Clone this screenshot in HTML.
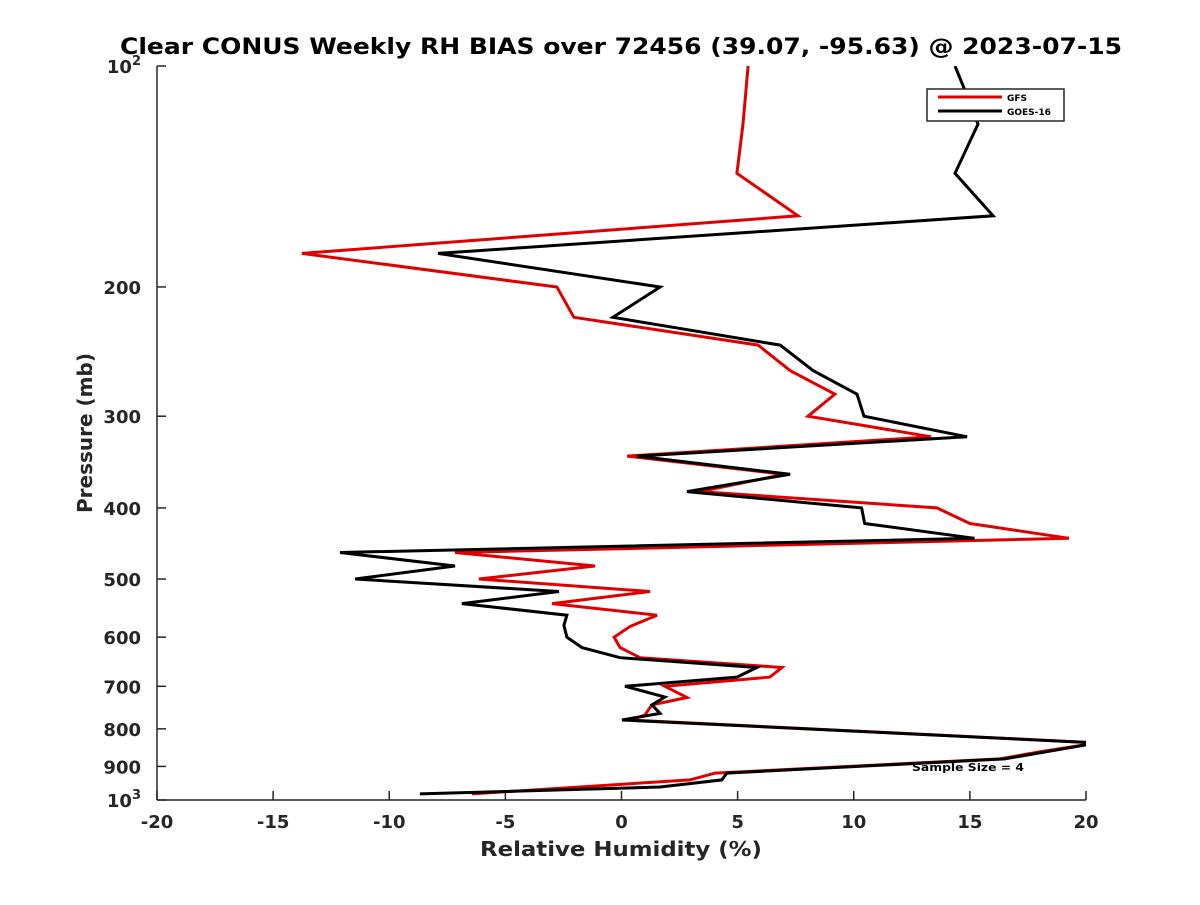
<!DOCTYPE html>
<html><head><meta charset="utf-8"><style>
body{margin:0;background:#fff;}
svg text{font-family:"DejaVu Sans","Liberation Sans",sans-serif;font-weight:bold;fill:#262626;}
</style></head><body>
<svg id="chart" width="1200" height="900" xmlns="http://www.w3.org/2000/svg">
<rect width="1200" height="900" fill="#fff"/>
<defs><clipPath id="pc"><rect x="157" y="66" width="929" height="734"/></clipPath></defs>
<text x="120" y="54" font-size="22" textLength="1002" lengthAdjust="spacingAndGlyphs" style="fill:#000">Clear CONUS Weekly RH BIAS over 72456 (39.07, -95.63) @ 2023-07-15</text>
<g id="axes"></g>
<g id="series" clip-path="url(#pc)"></g>
<text x="480" y="856" font-size="20" textLength="282" lengthAdjust="spacingAndGlyphs">Relative Humidity (%)</text>
<text transform="translate(92,433) rotate(-90)" text-anchor="middle" font-size="20">Pressure (mb)</text>
<text x="912" y="771" font-size="11" textLength="112" lengthAdjust="spacingAndGlyphs" style="fill:#000">Sample Size = 4</text>
<g>
<rect x="927" y="89" width="137" height="32" fill="#fff" stroke="#262626" stroke-width="1.5"/>
<line x1="938" y1="97" x2="1002" y2="97" stroke="#e00000" stroke-width="3"/>
<text x="1007" y="101" font-size="9" style="fill:#000">GFS</text>
<line x1="938" y1="111" x2="1002" y2="111" stroke="#000" stroke-width="3"/>
<text x="1007" y="115" font-size="9" style="fill:#000">GOES-16</text>
</g>
</svg>
<script>
const xTicks=[-20,-15,-10,-5,0,5,10,15,20];
const yTicks=[100,200,300,400,500,600,700,800,900,1000];
const gfsP=[100,120,140,160,180,200,220,240,260,280,300,320,340,360,380,400,420,440,460,480,500,520,540,560,580,600,620,640,660,680,700,725,742,766,778,836,860,879,919,939,981];
const gfsRH=[5.45,5.23,4.97,7.6,-13.76,-2.78,-2.05,5.88,7.26,9.19,8.03,13.33,0.24,7.0,3.38,13.58,15.0,19.27,-7.17,-1.14,-6.14,1.23,-2.99,1.53,0.37,-0.32,-0.06,0.8,6.91,6.39,1.87,2.82,1.31,1.01,0.37,20.5,18.0,16.3,4.03,2.95,-6.44];
const goesP=[100,107,120,140,160,180,200,220,240,260,280,300,320,340,360,380,400,420,440,460,480,500,520,540,560,578,600,620,640,660,680,700,724,742,762,778,836,879,919,939,960,981];
const goesRH=[14.36,14.74,15.35,14.36,16.0,-7.9,1.66,-0.37,6.83,8.25,10.14,10.44,14.88,0.67,7.26,2.82,10.34,10.47,15.2,-12.12,-7.17,-11.47,-2.69,-6.87,-2.35,-2.48,-2.35,-1.7,-0.06,5.83,4.97,0.15,1.87,1.31,1.66,0.02,20.5,16.5,4.54,4.32,1.66,-8.68];
const X0=157,X1=1086,Y0=66,Y1=800;
function xs(v){return X0+(v+20)/40*(X1-X0);}
function ys(p){return Y0+Math.log10(p/100)*(Y1-Y0);}
const NS='http://www.w3.org/2000/svg';
function mk(t,a,p){const e=document.createElementNS(NS,t);for(const k in a)e.setAttribute(k,a[k]);p.appendChild(e);return e;}
const ax=document.getElementById('axes');
const yl=mk('line',{x1:X0,y1:Y0,x2:X0,y2:Y1,stroke:'#262626','stroke-width':1.5},ax);


const xl=mk('line',{x1:X0,y1:Y1,x2:X1,y2:Y1,stroke:'#262626','stroke-width':1.5},ax);


xTicks.forEach(v=>{
 const x=xs(v);
 mk('line',{x1:x,y1:Y1,x2:x,y2:Y1-9,stroke:'#262626','stroke-width':1.5},ax);
 const t=mk('text',{x:x,y:Y1+28,'text-anchor':'middle','font-size':18},ax);
 t.textContent=v;
 
 
});
yTicks.forEach(p=>{
 const y=ys(p);
 mk('line',{x1:X0,y1:y,x2:X0+9,y2:y,stroke:'#262626','stroke-width':1.5},ax);
 const t=mk('text',{x:X0-16,y:y+7,'text-anchor':'end','font-size':18},ax);
 if(p===100||p===1000){
  t.textContent='10';
  const s=mk('tspan',{dy:-8,'font-size':13},t);s.textContent=p===100?'2':'3';
 } else t.textContent=p;
 
 
});
const sg=document.getElementById('series');
function draw(P,R,c,name){
 const pts=P.map((p,i)=>xs(R[i]).toFixed(1)+','+ys(p).toFixed(1)).join(' ');
 const pl=mk('polyline',{points:pts,fill:'none',stroke:c,'stroke-width':3,'stroke-linejoin':'miter'},sg);
 
 
}
draw(gfsP,gfsRH,'#e00000','gfs-line');
draw(goesP,goesRH,'#000','goes16-line');
</script>
</body></html>
